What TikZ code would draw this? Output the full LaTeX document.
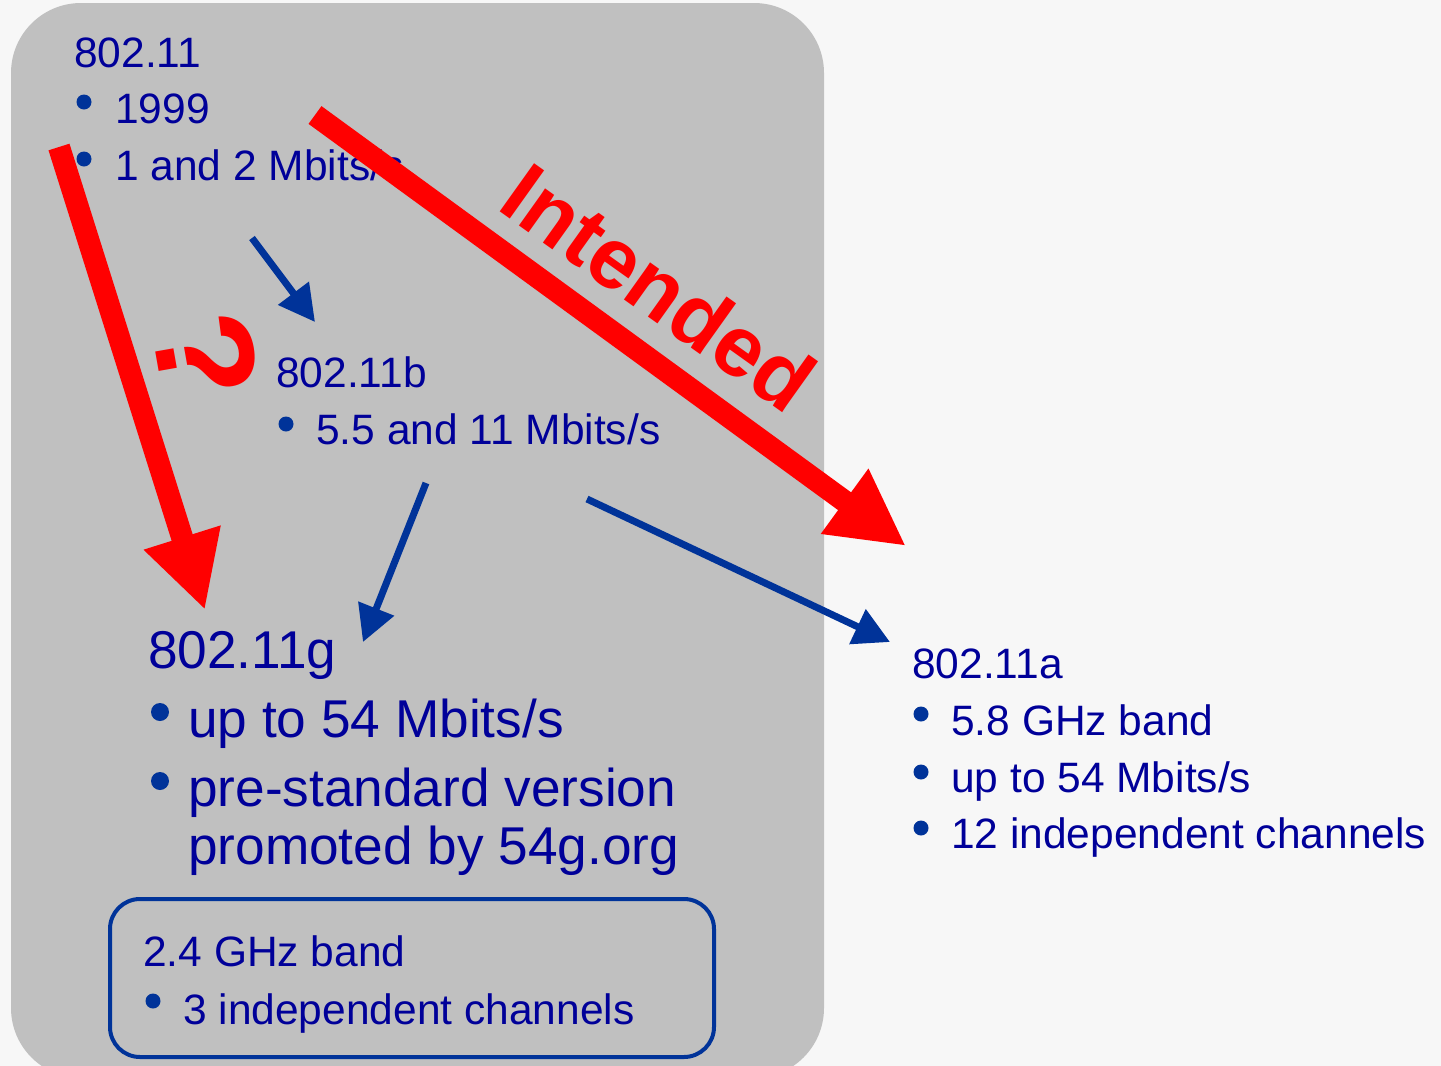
\documentclass[tikz,border=0pt]{standalone}
\usepackage{fontspec}
\setmainfont{Liberation Sans}
\usetikzlibrary{arrows.meta}

\definecolor{bgc}{HTML}{F7F7F7}
\definecolor{panel}{HTML}{C0C0C0}
\definecolor{txt}{HTML}{000099}
\definecolor{accent}{HTML}{003399}
\definecolor{warn}{HTML}{FF0000}

\tikzset{
  lbl/.style={inner sep=0pt, anchor=base west, text=txt, font=\fontsize{42.5}{50}\selectfont},
  biglbl/.style={lbl, font=\fontsize{53.2}{64}\selectfont},
  dot/.style={fill=accent, draw=none, circle, inner sep=0pt, minimum size=15pt},
  bigdot/.style={dot, minimum size=18pt},
  bluearrow/.style={draw=accent, line width=7pt, -{Triangle[length=36pt,width=37pt]}},
  redarrow/.style={draw=warn, line width=22pt, -{Triangle[length=76pt,width=75pt]}},
}

\begin{document}
\begin{tikzpicture}[x=1pt, y=-1pt]
  \useasboundingbox (0,0) rectangle (1441,1066);
  \clip (0,0) rectangle (1441,1066);
  \fill[bgc] (0,0) rectangle (1441,1066);

  % grey panel holding the 2.4 GHz standards
  \fill[panel, rounded corners=70pt] (11,3) rectangle (824,1078);

  % 802.11
  \node[lbl] (s0) at (74,67) {802.11};
  \node[dot] (s0b1) at (84,102) {};
  \node[lbl] (s0t1) at (115,123) {1999};
  \node[dot] (s0b2) at (84,159) {};
  \node[lbl] (s0t2) at (115,180) {1 and 2 Mbits/s};

  % 802.11b
  \node[lbl] (sb) at (276,387) {802.11b};
  \node[dot] (sbb1) at (286,424) {};
  \node[lbl] (sbt1) at (316,444) {5.5 and 11 Mbits/s};

  % 802.11g
  \node[biglbl] (sg) at (148,668) {802.11g};
  \node[bigdot] (sgb1) at (160,712) {};
  \node[biglbl] (sgt1) at (188,737) {up to 54 Mbits/s};
  \node[bigdot] (sgb2) at (160,781) {};
  \node[biglbl] (sgt2) at (188,806) {pre-standard version};
  \node[biglbl] (sgt3) at (188,864) {promoted by 54g.org};

  % 2.4 GHz band box
  \draw[accent, line width=4pt, rounded corners=30pt] (110,899) rectangle (714,1057);
  \node[lbl] (band) at (143,966) {2.4 GHz band};
  \node[dot] (bandb1) at (153,1001) {};
  \node[lbl] (bandt1) at (183,1024) {3 independent channels};

  % 802.11a
  \node[lbl] (sa) at (912,678) {802.11a};
  \node[dot] (sab1) at (921,714) {};
  \node[lbl] (sat1) at (951,735) {5.8 GHz band};
  \node[dot] (sab2) at (921,772) {};
  \node[lbl] (sat2) at (951,792) {up to 54 Mbits/s};
  \node[dot] (sab3) at (921,828) {};
  \node[lbl] (sat3) at (951,848) {12 independent channels};

  % connector end points
  \coordinate (ab0) at (252,238);
  \coordinate (ab1) at (315,322);
  \coordinate (bg0) at (426,483);
  \coordinate (bg1) at (363,642);
  \coordinate (ba0) at (587,499);
  \coordinate (ba1) at (890,642);
  \coordinate (rg0) at (59,147);
  \coordinate (rg1) at (205,610);
  \coordinate (ra0) at (315,115);
  \coordinate (ra1) at (906,546);

  % evolution arrows
  \draw[bluearrow] (ab0) -- (ab1);
  \draw[bluearrow] (bg0) -- (bg1);
  \draw[bluearrow] (ba0) -- (ba1);

  % emphasis arrows
  \draw[redarrow] (rg0) -- (rg1);
  \draw[redarrow] (ra0) -- (ra1);
  \node[inner sep=0pt, anchor=base west, text=warn, rotate=-35.5,
        font=\bfseries\fontsize{86}{100}\selectfont] (intended) at (495,208) {Intended};
  \node[inner sep=0pt, text=warn, rotate=-80,
        font=\bfseries\fontsize{140}{160}\selectfont] (qmark) at (206,356) {?};
\end{tikzpicture}
\end{document}
